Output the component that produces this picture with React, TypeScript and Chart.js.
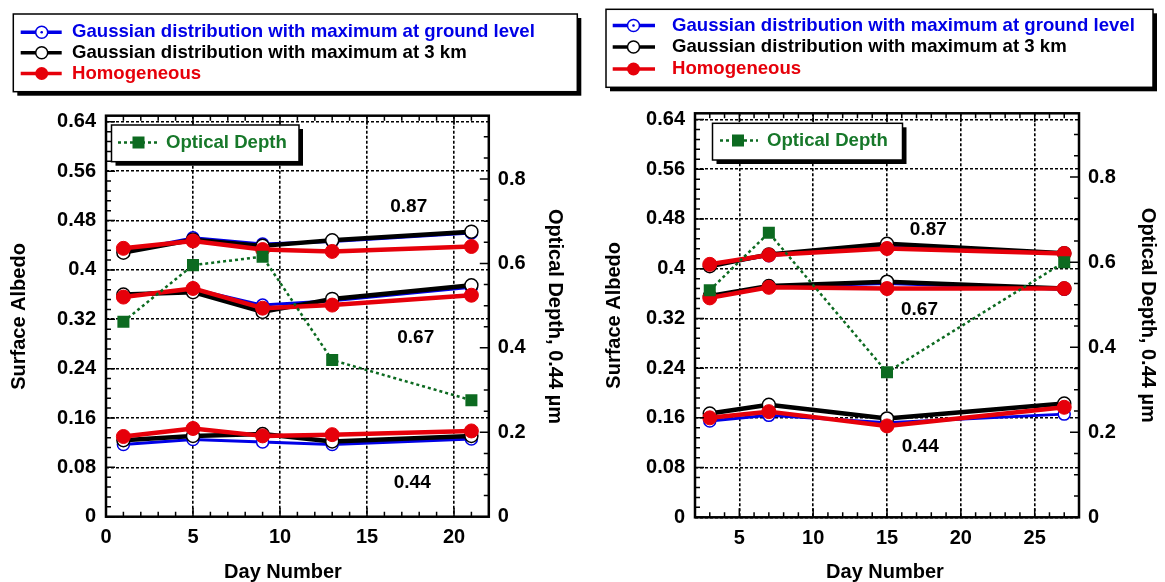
import { useEffect, useRef } from "react";
import { Chart, registerables } from "chart.js";

Chart.register(...registerables);

const FONT = "'Liberation Sans', Arial, Helvetica, sans-serif";
const BLUE = "#0000e6";
const BLACK = "#000000";
const RED = "#e6000a";
const GREEN = "#0c6a20";
const GREEN_TEXT = "#17782a";

// ---- Left panel: retrievals for days 1–21 ----
const daysA = [1, 5, 9, 13, 21];
const groundA044 = [0.117, 0.125, 0.121, 0.117, 0.126];
const groundA067 = [0.358, 0.369, 0.343, 0.35, 0.372];
const groundA087 = [0.43, 0.452, 0.442, 0.446, 0.46];
const km3A044 = [0.124, 0.131, 0.134, 0.122, 0.131];
const km3A067 = [0.36, 0.364, 0.332, 0.353, 0.375];
const km3A087 = [0.428, 0.449, 0.439, 0.448, 0.462];
const homogA044 = [0.13, 0.143, 0.131, 0.133, 0.139];
const homogA067 = [0.356, 0.37, 0.338, 0.343, 0.359];
const homogA087 = [0.435, 0.447, 0.433, 0.43, 0.438];
const depthA = [0.462, 0.596, 0.616, 0.371, 0.276];

// ---- Right panel: retrievals for days 3–27 ----
const daysB = [3, 7, 15, 27];
const groundB044 = [0.155, 0.164, 0.152, 0.166];
const groundB067 = [0.355, 0.371, 0.376, 0.367];
const groundB087 = [0.405, 0.421, 0.437, 0.424];
const km3B044 = [0.167, 0.181, 0.159, 0.183];
const km3B067 = [0.356, 0.372, 0.379, 0.368];
const km3B087 = [0.404, 0.423, 0.44, 0.425];
const homogB044 = [0.16, 0.17, 0.147, 0.177];
const homogB067 = [0.353, 0.37, 0.368, 0.368];
const homogB087 = [0.407, 0.422, 0.4325, 0.4245];
const depthB = [0.534, 0.669, 0.341, 0.6];

// ---- Axes ----
const albedoTicks = [0, 0.08, 0.16, 0.24, 0.32, 0.4, 0.48, 0.56, 0.64];
const depthTicks = [0, 0.2, 0.4, 0.6, 0.8];
const dayTicksA = [0, 5, 10, 15, 20];
const dayTicksB = [5, 10, 15, 20, 25];
const wavelengths = ["0.44", "0.67", "0.87"];

const legendLabels = [
  "Gaussian distribution with maximum at ground level",
  "Gaussian distribution with maximum at 3 km",
  "Homogeneous",
];
const depthLabel = "Optical Depth";
const xTitle = "Day Number";
const yTitle = "Surface Albedo";
const y1Title = "Optical Depth, 0.44 \u00b5m";

type Box = { x: number; y: number; w: number; h: number };
type Panel = {
  days: number[];
  ground: number[][];
  km3: number[][];
  homog: number[][];
  depth: number[];
  dayMin: number;
  dayMax: number;
  dayTicks: number[];
  labelSpots: { day: number; albedo: number }[];
  width: number;
  height: number;
  area: { left: number; right: number; top: number; bottom: number };
  legend: { box: Box; line: [number, number]; mark: number; text: number; rows: number[] };
  depthLegend: { box: Box; line: [number, number]; mark: number; text: number; row: number };
  titles: { left: number; right: number; mid: number; dayX: number; dayBase: number };
};

const panelA: Panel = {
  days: daysA,
  ground: [groundA044, groundA067, groundA087],
  km3: [km3A044, km3A067, km3A087],
  homog: [homogA044, homogA067, homogA087],
  depth: depthA,
  dayMin: 0,
  dayMax: 22,
  dayTicks: dayTicksA,
  labelSpots: [
    { day: 17.6, albedo: 0.055 },
    { day: 17.8, albedo: 0.29 },
    { day: 17.4, albedo: 0.503 },
  ],
  width: 582,
  height: 582,
  area: { left: 106, right: 488.8, top: 115.7, bottom: 516.7 },
  legend: { box: { x: 13.3, y: 14, w: 564, h: 77.7 }, line: [20.7, 61.7], mark: 41.7, text: 72, rows: [32.3, 52.8, 73.5] },
  depthLegend: { box: { x: 111.5, y: 125, w: 187.5, h: 36.7 }, line: [118, 159], mark: 138.5, text: 166, row: 142.5 },
  titles: { left: 19.5, right: 555, mid: 316.5, dayX: 283, dayBase: 577.5 },
};

const panelB: Panel = {
  days: daysB,
  ground: [groundB044, groundB067, groundB087],
  km3: [km3B044, km3B067, km3B087],
  homog: [homogB044, homogB067, homogB087],
  depth: depthB,
  dayMin: 2,
  dayMax: 28,
  dayTicks: dayTicksB,
  labelSpots: [
    { day: 17.25, albedo: 0.1135 },
    { day: 17.2, albedo: 0.334 },
    { day: 17.8, albedo: 0.462 },
  ],
  width: 583,
  height: 582,
  area: { left: 113, right: 497, top: 113.3, bottom: 517.3 },
  legend: { box: { x: 24, y: 9.3, w: 547, h: 78 }, line: [30.7, 73], mark: 51.5, text: 90, rows: [25.5, 47, 69] },
  depthLegend: { box: { x: 130.5, y: 123.3, w: 190, h: 36.7 }, line: [138, 176], mark: 156, text: 185, row: 140.5 },
  titles: { left: 32.7, right: 566, mid: 315.3, dayX: 303, dayBase: 577.5 },
};

const fmt = (v: number) => String(Math.round(v * 100) / 100);
const pts = (days: number[], vals: number[]) => days.map((d, i) => ({ x: d, y: vals[i] }));

function buildDatasets(p: Panel) {
  const sets: any[] = [];
  // first dataset is painted last (on top)
  sets.push({
    label: depthLabel,
    data: pts(p.days, p.depth),
    yAxisID: "y1",
    borderColor: GREEN,
    backgroundColor: GREEN,
    borderWidth: 2.5,
    borderDash: [3, 3],
    pointStyle: "rect",
    pointRadius: 8.5,
    pointBorderWidth: 0,
    pointBackgroundColor: GREEN,
  });
  p.homog.forEach((vals, i) =>
    sets.push({
      label: legendLabels[2] + " " + wavelengths[i],
      data: pts(p.days, vals),
      yAxisID: "y",
      borderColor: RED,
      borderWidth: 4.5,
      borderJoinStyle: "round",
      pointRadius: 7,
      pointBackgroundColor: RED,
      pointBorderColor: RED,
      pointBorderWidth: 1,
    })
  );
  p.km3.forEach((vals, i) =>
    sets.push({
      label: legendLabels[1] + " " + wavelengths[i],
      data: pts(p.days, vals),
      yAxisID: "y",
      borderColor: BLACK,
      borderWidth: 4.5,
      borderJoinStyle: "round",
      pointRadius: 6.5,
      pointBackgroundColor: "#ffffff",
      pointBorderColor: BLACK,
      pointBorderWidth: 1.5,
    })
  );
  p.ground.forEach((vals, i) =>
    sets.push({
      label: legendLabels[0] + " " + wavelengths[i],
      data: pts(p.days, vals),
      yAxisID: "y",
      borderColor: BLUE,
      borderWidth: 3,
      borderJoinStyle: "round",
      pointRadius: 6,
      pointBackgroundColor: "#ffffff",
      pointBorderColor: BLUE,
      pointBorderWidth: 1.5,
    })
  );
  return sets;
}

function shadowBox(ctx: CanvasRenderingContext2D, b: Box) {
  ctx.fillStyle = "#000";
  ctx.fillRect(b.x + 4, b.y + 4, b.w, b.h);
  ctx.fillStyle = "#fff";
  ctx.fillRect(b.x, b.y, b.w, b.h);
  ctx.lineWidth = 1.5;
  ctx.strokeStyle = "#000";
  ctx.setLineDash([]);
  ctx.strokeRect(b.x, b.y, b.w, b.h);
}

function decorPlugin(p: Panel) {
  return {
    id: "decor",
    afterDraw(chart: any) {
      const ctx: CanvasRenderingContext2D = chart.ctx;
      const { left, right, top, bottom } = chart.chartArea;
      const xs = chart.scales.x;
      const ys = chart.scales.y;
      const y1s = chart.scales.y1;
      ctx.save();

      // inward tick marks on all four sides
      ctx.strokeStyle = "#000";
      ctx.lineWidth = 1.5;
      ctx.setLineDash([]);
      ctx.beginPath();
      for (let d = Math.ceil(p.dayMin); d <= p.dayMax; d++) {
        const px = xs.getPixelForValue(d);
        const len = d % 5 === 0 ? 9 : 5;
        ctx.moveTo(px, bottom);
        ctx.lineTo(px, bottom - len);
        ctx.moveTo(px, top);
        ctx.lineTo(px, top + len);
      }
      for (let i = 0; i * 0.016 <= 0.65; i++) {
        const py = ys.getPixelForValue(i * 0.016);
        const len = i % 5 === 0 ? 9 : 5;
        ctx.moveTo(left, py);
        ctx.lineTo(left + len, py);
      }
      for (let i = 0; i * 0.05 <= 0.95; i++) {
        const py = y1s.getPixelForValue(i * 0.05);
        const len = i % 4 === 0 ? 9 : 5;
        ctx.moveTo(right, py);
        ctx.lineTo(right - len, py);
      }
      ctx.stroke();

      // plot frame
      ctx.lineWidth = 2.5;
      ctx.strokeRect(left, top, right - left, bottom - top);

      // wavelength annotations
      ctx.fillStyle = "#000";
      ctx.font = `bold 19px ${FONT}`;
      ctx.textAlign = "center";
      ctx.textBaseline = "middle";
      p.labelSpots.forEach((s, i) => {
        ctx.fillText(wavelengths[i], xs.getPixelForValue(s.day), ys.getPixelForValue(s.albedo));
      });

      // axis titles
      ctx.font = `bold 20px ${FONT}`;
      ctx.save();
      ctx.translate(p.titles.left, p.titles.mid);
      ctx.rotate(-Math.PI / 2);
      ctx.fillText(yTitle, 0, 0);
      ctx.restore();
      ctx.save();
      ctx.translate(p.titles.right, p.titles.mid);
      ctx.rotate(Math.PI / 2);
      ctx.fillText(y1Title, 0, 0);
      ctx.restore();
      ctx.textBaseline = "alphabetic";
      ctx.fillText(xTitle, p.titles.dayX, p.titles.dayBase);

      // optical depth key
      const dl = p.depthLegend;
      shadowBox(ctx, dl.box);
      ctx.strokeStyle = GREEN;
      ctx.lineWidth = 2.5;
      ctx.setLineDash([3, 3]);
      ctx.beginPath();
      ctx.moveTo(dl.line[0], dl.row);
      ctx.lineTo(dl.line[1], dl.row);
      ctx.stroke();
      ctx.setLineDash([]);
      ctx.fillStyle = GREEN;
      ctx.fillRect(dl.mark - 6, dl.row - 6, 12, 12);
      ctx.fillStyle = GREEN_TEXT;
      ctx.font = `bold 18.6px ${FONT}`;
      ctx.textAlign = "left";
      ctx.textBaseline = "middle";
      ctx.fillText(depthLabel, dl.text, dl.row);

      // model key
      const lg = p.legend;
      shadowBox(ctx, lg.box);
      const colors = [BLUE, BLACK, RED];
      lg.rows.forEach((ry, i) => {
        ctx.strokeStyle = colors[i];
        ctx.lineWidth = 3.5;
        ctx.beginPath();
        ctx.moveTo(lg.line[0], ry);
        ctx.lineTo(lg.line[1], ry);
        ctx.stroke();
        ctx.beginPath();
        if (i === 2) {
          ctx.arc(lg.mark, ry, 6.5, 0, Math.PI * 2);
          ctx.fillStyle = RED;
          ctx.fill();
        } else {
          ctx.arc(lg.mark, ry, 6, 0, Math.PI * 2);
          ctx.fillStyle = "#fff";
          ctx.fill();
          ctx.lineWidth = 1.5;
          ctx.stroke();
          if (i === 0) {
            ctx.beginPath();
            ctx.arc(lg.mark, ry, 1.3, 0, Math.PI * 2);
            ctx.fillStyle = BLUE;
            ctx.fill();
          }
        }
        ctx.fillStyle = colors[i];
        ctx.fillText(legendLabels[i], lg.text, ry);
      });

      ctx.restore();
    },
  };
}

function buildConfig(p: Panel): any {
  const tickFont = { family: FONT, size: 20, weight: "bold" as const };
  return {
    type: "line",
    data: { datasets: buildDatasets(p) },
    options: {
      responsive: false,
      animation: false,
      events: [],
      layout: { padding: { left: 0, right: 0, top: p.area.top, bottom: 0 } },
      elements: { line: { tension: 0 } },
      plugins: { legend: { display: false }, tooltip: { enabled: false } },
      scales: {
        x: {
          type: "linear",
          position: "bottom",
          min: p.dayMin,
          max: p.dayMax,
          afterBuildTicks: (s: any) => {
            s.ticks = p.dayTicks.map((v) => ({ value: v }));
          },
          afterFit: (s: any) => {
            s.height = p.height - p.area.bottom;
          },
          ticks: { font: tickFont, color: "#000", padding: 9, maxRotation: 0, autoSkip: false, callback: (v: number) => fmt(v) },
          grid: { color: "#000", lineWidth: 1.6, drawTicks: false },
          border: { display: false, dash: [3, 2] },
        },
        y: {
          type: "linear",
          position: "left",
          min: 0,
          max: 0.65,
          afterBuildTicks: (s: any) => {
            s.ticks = albedoTicks.map((v) => ({ value: v }));
          },
          afterFit: (s: any) => {
            s.width = p.area.left;
          },
          ticks: { font: tickFont, color: "#000", padding: 10, autoSkip: false, callback: (v: number) => fmt(v) },
          grid: { color: "#000", lineWidth: 1.6, drawTicks: false },
          border: { display: false, dash: [3, 2] },
        },
        y1: {
          type: "linear",
          position: "right",
          min: 0,
          max: 0.95,
          afterBuildTicks: (s: any) => {
            s.ticks = depthTicks.map((v) => ({ value: v }));
          },
          afterFit: (s: any) => {
            s.width = p.width - p.area.right;
          },
          ticks: { font: tickFont, color: "#000", padding: 9, autoSkip: false, callback: (v: number) => fmt(v) },
          grid: { display: false, drawTicks: false },
          border: { display: false },
        },
      },
    },
    plugins: [decorPlugin(p)],
  };
}

export default function App() {
  const refA = useRef<HTMLCanvasElement>(null);
  const refB = useRef<HTMLCanvasElement>(null);

  useEffect(() => {
    const a = new Chart(refA.current!, buildConfig(panelA));
    const b = new Chart(refB.current!, buildConfig(panelB));
    return () => {
      a.destroy();
      b.destroy();
    };
  }, []);

  return (
    <div style={{ position: "absolute", left: 0, top: 0, width: 1165, height: 582, background: "#fff" }}>
      <canvas ref={refA} width={panelA.width} height={panelA.height} style={{ position: "absolute", left: 0, top: 0 }} />
      <canvas ref={refB} width={panelB.width} height={panelB.height} style={{ position: "absolute", left: 582, top: 0 }} />
    </div>
  );
}
